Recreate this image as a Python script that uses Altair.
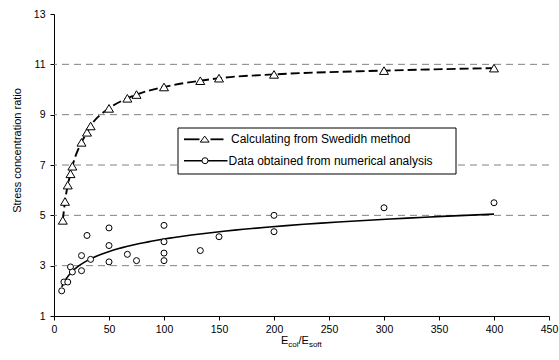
import altair as alt
import pandas as pd

# ---- data ----
swedish_x = [8, 10, 12.5, 15, 16.7, 25, 30, 33.3, 50, 66.7, 75, 100, 133, 150, 200, 300, 400]
swedish_y = [4.8, 5.55, 6.2, 6.65, 6.95, 7.9, 8.3, 8.55, 9.25, 9.65, 9.8, 10.1, 10.35, 10.45, 10.6, 10.75, 10.85]

num_x = [7, 9, 12.5, 15, 16.7, 25, 25, 30, 33.3, 50, 50, 50, 66.7, 75,
         100, 100, 100, 100, 133, 150, 200, 200, 300, 400]
num_y = [2.0, 2.35, 2.35, 2.95, 2.75, 2.8, 3.4, 4.2, 3.25, 4.5, 3.8, 3.15, 3.45, 3.2,
         4.6, 3.95, 3.5, 3.2, 3.6, 4.15, 4.35, 5.0, 5.3, 5.5]

grid_values = [3, 5, 7, 9, 11]
x_ticks = [0, 50, 100, 150, 200, 250, 300, 350, 400, 450]
y_ticks = [1, 3, 5, 7, 9, 11, 13]
series_names = ["Calculating from Swedidh method", "Data obtained from numerical analysis"]

FONT = "Liberation Sans"
W, H = 495, 302

sw = pd.DataFrame({"x": swedish_x, "y": swedish_y})
nm = pd.DataFrame({"x": num_x, "y": num_y})
grid = pd.DataFrame({"y": grid_values})
one = pd.DataFrame({"k": [0]})

xs = alt.Scale(domain=[0, 450], nice=False, zero=False)
ys = alt.Scale(domain=[1, 13], nice=False, zero=False)

x_axis = alt.Axis(values=x_ticks, title=None, grid=False, domainColor="black",
                  domainWidth=1, tickColor="black", tickSize=4, tickWidth=1,
                  labelFont=FONT, labelFontSize=10.5, labelColor="black",
                  labelPadding=4, labelFlush=False, labelOverlap=False)
y_axis = alt.Axis(values=y_ticks, title="Stress concentration ratio", grid=False,
                  domainColor="black", domainWidth=1, tickColor="black", tickSize=4,
                  tickWidth=1, labelFont=FONT, labelFontSize=10.5, labelColor="black",
                  labelPadding=5, labelFlush=False, labelOverlap=False,
                  titleFont=FONT, titleFontSize=11, titleFontWeight="normal",
                  titleColor="black", titleAngle=270, titleX=-37, titleY=136,
                  titleAlign="center", titleBaseline="middle")

X = alt.X("x:Q", scale=xs, axis=x_axis)
Y = alt.Y("y:Q", scale=ys, axis=y_axis)

grid_layer = alt.Chart(grid).mark_rule(color="#808080", strokeDash=[7, 5],
                                        strokeWidth=1).encode(y=Y)

trend = alt.Chart(nm).transform_regression("x", "y", method="log").mark_line(
    color="black", strokeWidth=1.6).encode(x=X, y=Y)

sw_line = alt.Chart(sw).mark_line(color="black", strokeWidth=1.9, strokeDash=[9, 4],
                                  interpolate="monotone").encode(x=X, y=Y)

tri_shape = "M0,-0.95L1.12,0.95L-1.12,0.95Z"
sw_pts = alt.Chart(sw).mark_point(shape=tri_shape, size=64, filled=True, fill="white",
                                  stroke="black", strokeWidth=1, opacity=1).encode(x=X, y=Y)

nm_pts = alt.Chart(nm).mark_point(shape="circle", size=36, filled=True, fill="white",
                                  stroke="black", strokeWidth=1, opacity=1).encode(x=X, y=Y)

# ---- legend (drawn as a framed box inside the plot) ----
LX0, LX1, LY0, LY1 = 124, 402, 114, 160
R1, R2 = 125.3, 146.7

leg_box = alt.Chart(one).mark_rect(fill="white", stroke="black", strokeWidth=1).encode(
    x=alt.value(LX0), x2=alt.value(LX1), y=alt.value(LY0), y2=alt.value(LY1))

def seg(x0, x1, yy, w=1.6):
    return alt.Chart(one).mark_rule(color="black", strokeWidth=w).encode(
        x=alt.value(x0), x2=alt.value(x1), y=alt.value(yy))

leg_tri_shape = "M0,-0.8L1.1,0.7L-1.1,0.7Z"
leg_items = [
    seg(130, 145.5, R1, 1.8),
    seg(156.5, 169.5, R1, 1.8),
    alt.Chart(one).mark_point(shape=leg_tri_shape, size=64, filled=True, fill="white",
                              stroke="black", strokeWidth=1, opacity=1).encode(
        x=alt.value(150.7), y=alt.value(R1)),
    seg(130, 173.5, R2, 1.6),
    alt.Chart(one).mark_point(shape="circle", size=36, filled=True, fill="white",
                              stroke="black", strokeWidth=1, opacity=1).encode(
        x=alt.value(151), y=alt.value(R2)),
    alt.Chart(one).mark_text(text=series_names[0], font=FONT, fontSize=12, color="black",
                             align="left", baseline="middle").encode(
        x=alt.value(177), y=alt.value(R1)),
    alt.Chart(one).mark_text(text=series_names[1], font=FONT, fontSize=12, color="black",
                             align="left", baseline="middle").encode(
        x=alt.value(174.5), y=alt.value(R2)),
]

# x-axis title with subscripts
def txt(s, px, py, size):
    return alt.Chart(one).mark_text(text=s, font=FONT, fontSize=size, color="black",
                                    align="left", baseline="alphabetic").encode(
        x=alt.value(px), y=alt.value(py))

title_parts = [
    txt("E", 227, 329.5, 11),
    txt("col", 234.3, 332.5, 8),
    txt("/E", 244.5, 329.5, 11),
    txt("soft", 254.9, 332.5, 8),
]

chart = alt.layer(grid_layer, trend, sw_line, sw_pts, nm_pts, leg_box, *leg_items,
                  *title_parts).properties(
    width=W, height=H,
    autosize=alt.AutoSizeParams(type="none"),
    padding={"left": 54, "top": 14, "right": 10, "bottom": 44},
    background="white",
).configure_view(stroke=None)

chart.save("out.html", embed_options={"renderer": "svg", "actions": False})
